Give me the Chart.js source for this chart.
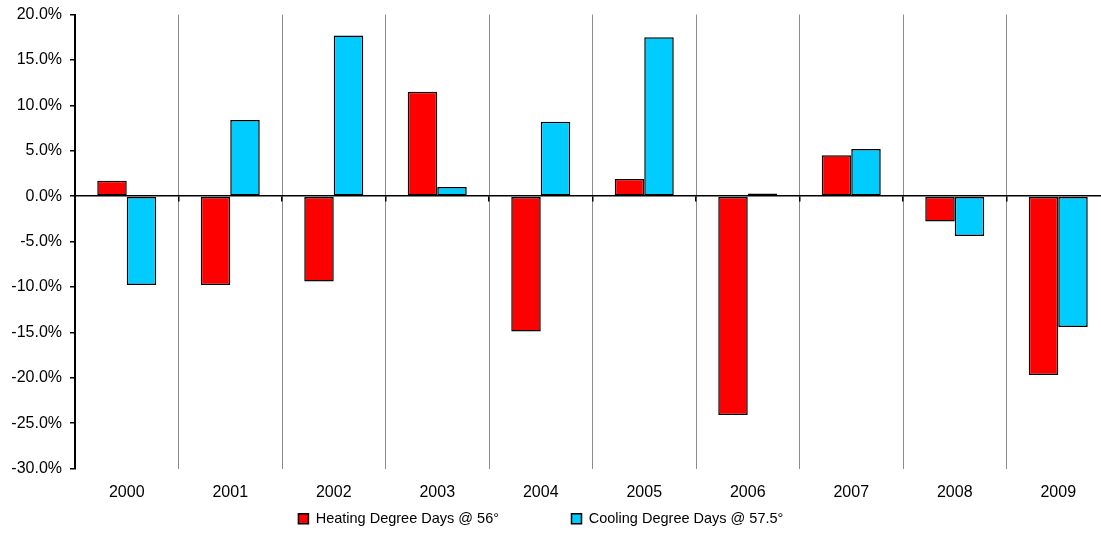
<!DOCTYPE html>
<html>
<head>
<meta charset="utf-8">
<script src="https://cdn.jsdelivr.net/npm/chart.js@4/dist/chart.umd.min.js"></script>
<style>
  html, body { margin: 0; padding: 0; background: #fff; overflow: hidden; }
  canvas { display: block; margin-top: -3px; }
</style>
</head>
<body>
<canvas id="degreeChart" width="1110" height="539"></canvas>
<script>
/* Degree days — year-over-year change (%) */
const years = ['2000', '2001', '2002', '2003', '2004', '2005', '2006', '2007', '2008', '2009'];
const heatingChange = [1.7, -9.8, -9.4, 11.5, -14.9, 1.9, -24.1, 4.5, -2.8, -19.7];
const coolingChange = [-9.8, 8.4, 17.7, 1.0, 8.2, 17.5, 0.3, 5.2, -4.4, -14.4];
const seriesNames = ['Heating Degree Days @ 56°', 'Cooling Degree Days @ 57.5°'];
const yMin = -30, yMax = 20, yStep = 5;

const FONT = 'Liberation Sans, Arial, sans-serif';

const ctx = document.getElementById('degreeChart').getContext('2d');
new Chart(ctx, {
  type: 'bar',
  data: {
    labels: years,
    datasets: [
      { label: seriesNames[0], data: heatingChange, backgroundColor: '#ff0000', borderColor: '#000', borderWidth: 1.5, borderSkipped: false },
      { label: seriesNames[1], data: coolingChange, backgroundColor: '#00ccff', borderColor: '#000', borderWidth: 1.5, borderSkipped: false },
    ]
  },
  options: {
    responsive: false, animation: false,
    layout: { padding: { top: 0, right: 0, bottom: 0, left: 0 } },
    datasets: { bar: { categoryPercentage: 0.57, barPercentage: 1.0 } },
    plugins: {
      tooltip: { enabled: false },
      legend: {
        position: 'bottom',
        labels: {
          font: { family: FONT, size: 14.5 }, color: '#000',
          boxWidth: 10, boxHeight: 10, padding: 4,
          generateLabels: chart => {
            const items = Chart.defaults.plugins.legend.labels.generateLabels(chart);
            // wide gap between the two entries, row sits left of centre as in the original
            items[0].text = items[0].text + ' '.repeat(17);
            items[1].text = items[1].text + ' '.repeat(7);
            return items;
          }
        }
      }
    },
    scales: {
      x: {
        afterFit: scale => { scale.height = 39; },
        grid: { color: '#8c8c8c', lineWidth: 1, drawTicks: false, offset: true },
        border: { display: false },
        ticks: { font: { family: FONT, size: 16 }, color: '#000', padding: 14 }
      },
      xZero: {
        type: 'category', position: { y: 0 },
        grid: { drawOnChartArea: false, drawTicks: true, tickLength: 5, tickColor: '#000', lineWidth: 1.5, offset: true },
        border: { display: true, color: '#000', width: 1.5 },
        ticks: { display: false }
      },
      y: {
        min: yMin, max: yMax,
        afterFit: scale => { scale.width = 75; },
        grid: { drawOnChartArea: false, drawTicks: true, tickLength: 5, tickColor: '#000', lineWidth: 1.5 },
        border: { display: true, color: '#000', width: 2 },
        ticks: { stepSize: yStep, font: { family: FONT, size: 16 }, color: '#000', padding: 8,
          callback: v => v.toFixed(1) + '%' }
      }
    }
  }
});
</script>
</body>
</html>
